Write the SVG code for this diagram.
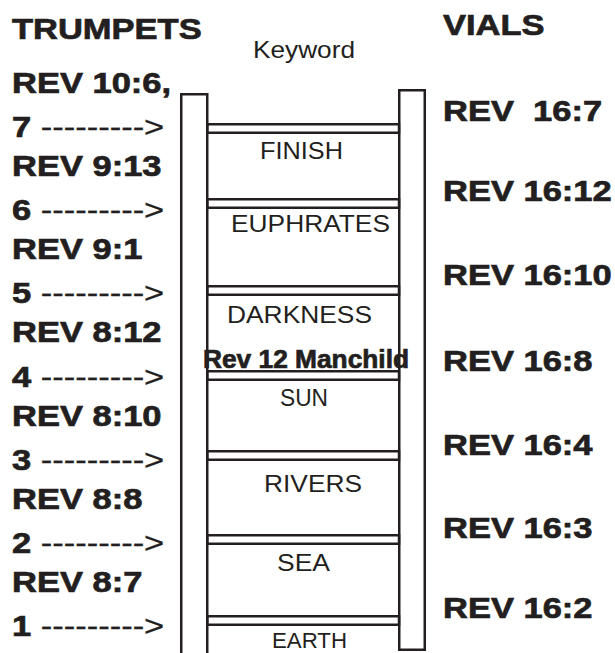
<svg xmlns="http://www.w3.org/2000/svg" width="615" height="653" viewBox="0 0 615 653">
<style>
.b{font-family:"Liberation Sans",Arial,sans-serif;font-weight:bold;font-size:30px;fill:#231f20;stroke:#231f20;stroke-width:0.7}
.r{font-family:"Liberation Sans",Arial,sans-serif;font-size:24px;fill:#231f20}
.d{font-weight:normal;stroke-width:0.3}
.rail{fill:#fff;stroke:#231f20;stroke-width:2.5}
.rung{fill:#fff;stroke:#231f20;stroke-width:2.5}
</style>
<rect width="615" height="653" fill="#fff"/>
<g id="ladder">
  <rect id="left-rail" class="rail" x="181.25" y="94.25" width="26" height="600"/>
  <rect id="right-rail" class="rail" x="399.25" y="90.25" width="25.5" height="559.5"/>
  <g id="rungs">
    <rect class="rung" x="207.5" y="124.25" width="191.5" height="8.5"/>
    <rect class="rung" x="207.5" y="199.25" width="191.5" height="8.5"/>
    <rect class="rung" x="207.5" y="286.25" width="191.5" height="8.5"/>
    <rect class="rung" x="207.5" y="371.25" width="191.5" height="8.5"/>
    <rect class="rung" x="207.5" y="451.25" width="191.5" height="8.5"/>
    <rect class="rung" x="207.5" y="535.25" width="191.5" height="8.5"/>
    <rect class="rung" x="207.5" y="616.25" width="191.5" height="8.5"/>
  </g>
</g>
<g id="keywords" class="r">
  <text x="253" y="58" textLength="102" lengthAdjust="spacingAndGlyphs">Keyword</text>
  <text x="260" y="159" textLength="83" lengthAdjust="spacingAndGlyphs">FINISH</text>
  <text x="231" y="231.5" textLength="159" lengthAdjust="spacingAndGlyphs">EUPHRATES</text>
  <text x="227" y="323" textLength="145" lengthAdjust="spacingAndGlyphs">DARKNESS</text>
  <text x="280" y="406" textLength="48" lengthAdjust="spacingAndGlyphs">SUN</text>
  <text x="264" y="492" textLength="98" lengthAdjust="spacingAndGlyphs">RIVERS</text>
  <text x="277" y="570.5" textLength="53" lengthAdjust="spacingAndGlyphs">SEA</text>
  <text x="272" y="647.5" style="font-size:22px" textLength="75" lengthAdjust="spacingAndGlyphs">EARTH</text>
</g>
<g id="manchild">
  <text class="b" x="203" y="368" style="font-size:25px" textLength="206" lengthAdjust="spacingAndGlyphs">Rev 12 Manchild</text>
</g>
<g id="trumpets" class="b" transform="translate(12,0) scale(1.15,1)">
  <text x="0" y="39">TRUMPETS</text>
  <text x="0" y="93">REV 10:6,</text>
  <text x="0" y="137">7 <tspan class="d">---------&gt;</tspan></text>
  <text x="0" y="176">REV 9:13</text>
  <text x="0" y="220">6 <tspan class="d">---------&gt;</tspan></text>
  <text x="0" y="259">REV 9:1</text>
  <text x="0" y="303">5 <tspan class="d">---------&gt;</tspan></text>
  <text x="0" y="342.5">REV 8:12</text>
  <text x="0" y="387">4 <tspan class="d">---------&gt;</tspan></text>
  <text x="0" y="426">REV 8:10</text>
  <text x="0" y="470">3 <tspan class="d">---------&gt;</tspan></text>
  <text x="0" y="509">REV 8:8</text>
  <text x="0" y="553">2 <tspan class="d">---------&gt;</tspan></text>
  <text x="0" y="592.5">REV 8:7</text>
  <text x="0" y="636">1 <tspan class="d">---------&gt;</tspan></text>
</g>
<g id="vials" class="b" transform="translate(443,0) scale(1.15,1)">
  <text x="0" y="35">VIALS</text>
  <text x="0" y="121.5" xml:space="preserve">REV  16:7</text>
  <text x="0" y="201">REV 16:12</text>
  <text x="0" y="285">REV 16:10</text>
  <text x="0" y="371">REV 16:8</text>
  <text x="0" y="455">REV 16:4</text>
  <text x="0" y="538">REV 16:3</text>
  <text x="0" y="618">REV 16:2</text>
</g>
</svg>
